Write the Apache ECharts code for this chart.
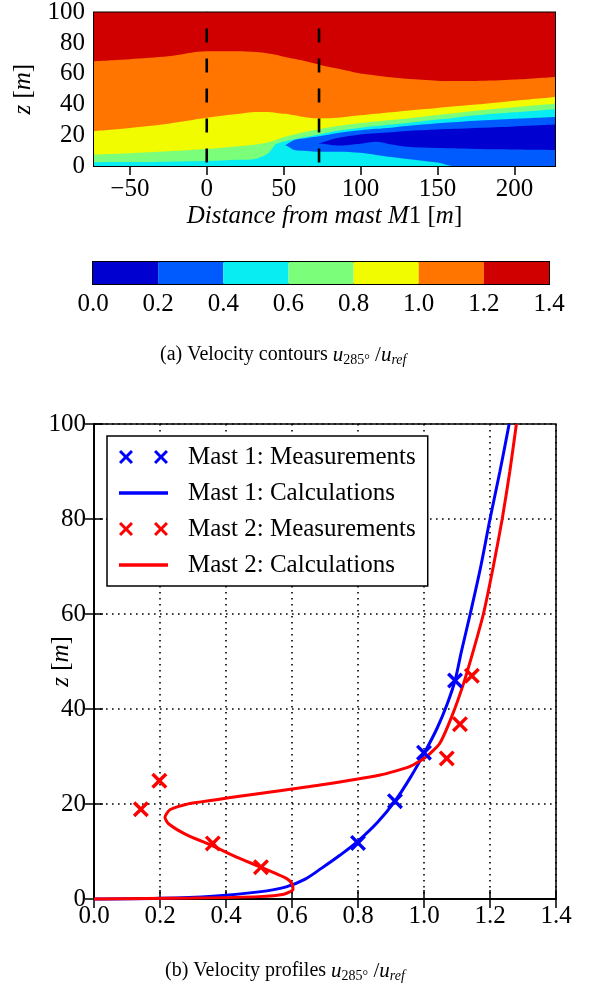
<!DOCTYPE html>
<html><head><meta charset="utf-8">
<script src="https://cdn.jsdelivr.net/npm/echarts@6/dist/echarts.min.js"></script>
<style>html,body{margin:0;padding:0;background:#fff}#c{width:597px;height:985px}</style>
</head><body><div id="c"></div>
<script>
// ---------- (a) contour data: band boundaries (z, m) sampled along x (m) ----------
const contourX = [-73.3, -50, -25, 0, 20, 32, 40, 45, 51, 57, 65, 73, 85, 100, 110, 120, 130, 150, 160, 175, 200, 226.4];
const zTop   = [100,100,100,100,100,100,100,100,100,100,100,100,100,100,100,100,100,100,100,100,100,100];
const zB12   = [68.3, 69.6, 71.5, 74.8, 74.8, 74.2, 73.3, 72.5, 71.0, 69.8, 68.0, 66.0, 63.5, 60.2, 59.0, 57.8, 56.8, 55.6, 55.4, 55.4, 56.3, 58.0];
const zB10   = [22.8, 24.8, 27.6, 31.4, 33.8, 35.2, 35.1, 34.6, 34.0, 33.0, 31.6, 31.0, 31.4, 33.0, 34.0, 35.0, 36.0, 37.8, 38.7, 40.0, 42.5, 45.0];
const zB08   = [7.4, 8.3, 9.6, 11.0, 12.8, 14.0, 15.5, 17.0, 19.0, 20.5, 22.4, 24.0, 26.0, 28.0, 29.0, 30.0, 31.0, 33.3, 34.3, 36.0, 38.3, 40.5];
const zB06   = [2.5, 2.6, 2.8, 3.2, 4.0, 4.8, 8.3, 14.3, 16.2, 17.5, 19.0, 20.6, 23.0, 25.0, 26.0, 27.0, 28.0, 30.3, 31.3, 33.0, 35.0, 37.0];
// lobes (null where the lobe does not exist)
const zB04   = [null, null, null, null, null, null, null, null, 13.4, 16.9, 18.2, 19.3, 21.5, 23.3, 24.2, 25.0, 26.0, 27.8, 28.5, 29.5, 30.8, 32.0];
const zDkTop = [null, null, null, null, null, null, null, null, null, null, null, 14.7, 18.2, 20.5, 21.3, 22.0, 22.8, 23.8, 24.2, 24.8, 25.8, 27.0];
const zDkBot = [null, null, null, null, null, null, null, null, null, null, 14.2, 14.7, 13.3, 14.5, 15.8, 14.0, 12.6, 11.7, 11.5, 11.1, 10.8, 10.5];
const zCyBot = [null, null, null, null, null, null, null, 6.0, 13.4, 10.4, 9.8, 9.3, 9.3, 8.6, 7.2, 5.8, 4.6, 2.2, 0, 0, 0, 0];
const mastX = [0, 73];
const contourXTicks = [-50, 0, 50, 100, 150, 200];

// colour levels
const cbLevels = [0, 0.2, 0.4, 0.6, 0.8, 1.0, 1.2, 1.4];
const cbColors = ['#0000D1', '#005BFF', '#08EDF2', '#7BFF7B', '#F1FC00', '#FF7500', '#D10000'];

// ---------- (b) velocity profiles ----------
const m1MeasX = [0.80, 0.912, 1.0, 1.094];
const m1MeasZ = [11.8, 20.6, 30.8, 46.0];
const m2MeasX = [0.142, 0.198, 0.36, 0.506, 1.069, 1.109, 1.145];
const m2MeasZ = [18.9, 24.9, 11.7, 6.7, 29.6, 36.8, 47.0];
const m1CalcX = [0, 0.2, 0.36, 0.5, 0.58, 0.64, 0.69, 0.745, 0.8, 0.86, 0.912, 0.958, 1.0, 1.04, 1.07, 1.094, 1.113, 1.14, 1.172, 1.2, 1.23, 1.258];
const m1CalcZ = [0, 0.15, 0.6, 1.5, 2.5, 4.2, 6.5, 9.2, 12.2, 16.2, 20.6, 25.5, 30.6, 36, 41, 46, 52, 60, 70, 80, 90, 100];
const m2CalcX = [0, 0.3, 0.5, 0.575, 0.603, 0.6, 0.584, 0.506, 0.432, 0.36, 0.281, 0.225, 0.215, 0.23, 0.291, 0.685, 0.867, 0.958, 1.008, 1.048, 1.084, 1.12, 1.15, 1.18, 1.21, 1.237, 1.26, 1.28];
const m2CalcZ = [0, 0.2, 0.5, 1.0, 2.0, 3.2, 4.3, 6.7, 8.8, 11.2, 13.5, 15.9, 17.2, 18.8, 20.1, 24.0, 26.1, 27.9, 30.0, 32.8, 38.4, 45.4, 52.4, 60, 70, 80, 90, 100];

const FONT = '"Liberation Serif", "DejaVu Serif", serif';
const BLUE = '#0000FF', RED = '#FF0000';

function cross(dx) {
  return `M${dx},3L${dx+3},0L${dx+10},7L${dx+17},0L${dx+20},3L${dx+13},10L${dx+20},17L${dx+17},20L${dx+10},13L${dx+3},20L${dx},17L${dx+7},10Z`;
}
const CROSS = 'path://' + cross(0);
const CROSS2 = 'path://' + cross(0) + cross(50);
const LINEICON = 'path://M0,0H40V3H0Z';

function band(arr, color) {
  return {
    type: 'line', xAxisIndex: 0, yAxisIndex: 0,
    data: contourX.map((x, i) => [x, arr[i]]),
    symbol: 'none', smooth: 0.3, silent: true, connectNulls: false,
    lineStyle: { opacity: 0 },
    areaStyle: { color: color, opacity: 1, origin: 'start' },
    z: 1
  };
}
const pair = (xs, zs) => xs.map((x, i) => [x, zs[i]]);
const minusFmt = v => (v < 0 ? '\u2212' + (-v) : String(v));

const axisLineS = { show: true, lineStyle: { color: '#000', width: 1.5 } };
const lab = (extra) => Object.assign({ fontSize: 25, fontFamily: FONT, color: '#000' }, extra || {});
const richName = { i: { fontStyle: 'italic', fontSize: 25, fontFamily: FONT, color: '#000' } };

const chart = echarts.init(document.getElementById('c'), null, { renderer: 'canvas' });

const capRich = {
  u: { fontStyle: 'italic', fontSize: 21, fontFamily: FONT, color: '#000' },
  s: { fontSize: 14, fontFamily: FONT, color: '#000', padding: [10, 0, 0, 0] },
  si: { fontSize: 14, fontStyle: 'italic', fontFamily: FONT, color: '#000', padding: [10, 0, 0, 0] },
  n: { fontSize: 21, fontFamily: FONT, color: '#000' }
};

const option = {
  animation: false,
  backgroundColor: '#fff',
  title: [
    { text: '(a) Velocity contours {u|u}{s|285°}{n| /}{u|u}{si|ref}', left: 155, top: 338,
      textStyle: { fontSize: 20, fontWeight: 'normal', fontFamily: FONT, color: '#000', rich: capRich } },
    { text: '(b) Velocity profiles {u|u}{s|285°}{n| /}{u|u}{si|ref}', left: 160, top: 954,
      textStyle: { fontSize: 20, fontWeight: 'normal', fontFamily: FONT, color: '#000', rich: capRich } }
  ],
  grid: [
    { left: 94, top: 12, width: 461, height: 154, show: true, borderColor: '#000', borderWidth: 2, backgroundColor: 'transparent' },
    { left: 93, top: 262, width: 456, height: 22, show: true, borderColor: '#000', borderWidth: 2 },
    { left: 94, top: 424, width: 462, height: 475, show: true, borderColor: '#000', borderWidth: 1.5 }
  ],
  xAxis: [
    { gridIndex: 0, type: 'value', min: -73.3, max: 226.4, position: 'bottom',
      axisLine: axisLineS, splitLine: { show: false },
      axisTick: { inside: true, length: 9, customValues: contourXTicks, lineStyle: { color: '#000', width: 1.5 } },
      axisLabel: lab({ margin: 11, customValues: contourXTicks, formatter: minusFmt }),
      name: '{i|Distance from mast M}1 [{i|m}]', nameLocation: 'middle', nameGap: 38, nameMoveOverlap: false,
      nameTextStyle: { fontSize: 25, fontFamily: FONT, color: '#000', rich: richName } },
    { gridIndex: 0, type: 'value', min: -73.3, max: 226.4, position: 'top',
      axisLine: axisLineS, splitLine: { show: false },
      axisTick: { inside: true, length: 9, customValues: contourXTicks, lineStyle: { color: '#000', width: 1.5 } },
      axisLabel: { show: false } },
    { gridIndex: 1, type: 'value', min: 0, max: 1.4, interval: 0.2, position: 'bottom',
      axisLine: axisLineS, splitLine: { show: false },
      axisTick: { inside: true, length: 3, lineStyle: { color: '#000', width: 1.5 } },
      axisLabel: lab({ margin: 8, formatter: v => v.toFixed(1) }) },
    { gridIndex: 1, type: 'value', min: 0, max: 1.4, interval: 0.2, position: 'top',
      axisLine: axisLineS, splitLine: { show: false },
      axisTick: { inside: true, length: 3, lineStyle: { color: '#000', width: 1.5 } },
      axisLabel: { show: false } },
    { gridIndex: 2, type: 'value', min: 0, max: 1.4, interval: 0.2, position: 'bottom',
      axisLine: axisLineS,
      splitLine: { show: true, lineStyle: { color: '#000', width: 1.6, type: [1.6, 4.4] } },
      axisTick: { inside: true, length: 9, lineStyle: { color: '#000', width: 1.5 } },
      axisLabel: lab({ margin: 5, formatter: v => v.toFixed(1) }) },
    { gridIndex: 2, type: 'value', min: 0, max: 1.4, interval: 0.2, position: 'top',
      axisLine: axisLineS, splitLine: { show: false },
      axisTick: { inside: true, length: 9, lineStyle: { color: '#000', width: 1.5 } },
      axisLabel: { show: false } }
  ],
  yAxis: [
    { gridIndex: 0, type: 'value', min: 0, max: 100, interval: 20, position: 'left',
      axisLine: axisLineS, splitLine: { show: false },
      axisTick: { inside: true, length: 9, lineStyle: { color: '#000', width: 1.5 } },
      axisLabel: lab({ margin: 9 }),
      name: '{i|z} [{i|m}]', nameLocation: 'middle', nameGap: 58, nameRotate: 90, nameMoveOverlap: false,
      nameTextStyle: { fontSize: 25, fontFamily: FONT, color: '#000', rich: richName } },
    { gridIndex: 0, type: 'value', min: 0, max: 100, interval: 20, position: 'right',
      axisLine: axisLineS, splitLine: { show: false },
      axisTick: { inside: true, length: 9, lineStyle: { color: '#000', width: 1.5 } },
      axisLabel: { show: false } },
    { gridIndex: 1, type: 'category', data: ['cb'], show: false },
    { gridIndex: 2, type: 'value', min: 0, max: 100, interval: 20, position: 'left',
      axisLine: axisLineS,
      splitLine: { show: true, lineStyle: { color: '#000', width: 1.6, type: [1.6, 4.4] } },
      axisTick: { inside: true, length: 9, lineStyle: { color: '#000', width: 1.5 } },
      axisLabel: lab({ margin: 8 }),
      name: '{i|z} [{i|m}]', nameLocation: 'middle', nameGap: 20, nameRotate: 90, nameMoveOverlap: false,
      nameTextStyle: { fontSize: 25, fontFamily: FONT, color: '#000', rich: richName } },
    { gridIndex: 2, type: 'value', min: 0, max: 100, interval: 20, position: 'right',
      axisLine: axisLineS, splitLine: { show: false },
      axisTick: { inside: true, length: 9, lineStyle: { color: '#000', width: 1.5 } },
      axisLabel: { show: false } }
  ],
  legend: {
    orient: 'vertical', left: 107, top: 436,
    padding: [7, 12, 7, 12], itemGap: 8, itemWidth: 49, itemHeight: 14, symbolKeepAspect: true,
    borderColor: '#000', borderWidth: 1.5, backgroundColor: '#fff',
    textStyle: { fontSize: 25, fontFamily: FONT, color: '#000', lineHeight: 28, padding: [0, 0, 0, 15] },
    data: [
      { name: 'Mast 1: Measurements', icon: CROSS2 },
      { name: 'Mast 1: Calculations', icon: LINEICON },
      { name: 'Mast 2: Measurements', icon: CROSS2 },
      { name: 'Mast 2: Calculations', icon: LINEICON }
    ]
  },
  series: [
    band(zTop, cbColors[6]),
    band(zB12, cbColors[5]),
    band(zB10, cbColors[4]),
    band(zB08, cbColors[3]),
    band(zB06, cbColors[2]),
    band(zB04, cbColors[1]),
    band(zDkTop, cbColors[0]),
    band(zDkBot, cbColors[1]),
    band(zCyBot, cbColors[2]),
    ...mastX.map(mx => ({
      type: 'line', xAxisIndex: 0, yAxisIndex: 0, symbol: 'none', silent: true, z: 5,
      data: [[mx, 100], [mx, 0]],
      lineStyle: { color: '#000', width: 2.6, type: [14, 16], dashOffset: 14 }
    })),
    ...cbColors.map((c, i) => ({
      type: 'bar', xAxisIndex: 2, yAxisIndex: 2, stack: 'cb', barWidth: '100%', silent: true,
      data: [+(cbLevels[i + 1] - cbLevels[i]).toFixed(3)],
      itemStyle: { color: c }
    })),
    { name: 'Mast 1: Calculations', type: 'line', xAxisIndex: 4, yAxisIndex: 3,
      data: pair(m1CalcX, m1CalcZ), symbol: 'none', smooth: 0.35, clip: false, z: 3,
      lineStyle: { color: BLUE, width: 3 }, itemStyle: { color: BLUE } },
    { name: 'Mast 2: Calculations', type: 'line', xAxisIndex: 4, yAxisIndex: 3,
      data: pair(m2CalcX, m2CalcZ), symbol: 'none', smooth: 0.2, clip: false, z: 3,
      lineStyle: { color: RED, width: 3 }, itemStyle: { color: RED } },
    { name: 'Mast 1: Measurements', type: 'scatter', xAxisIndex: 4, yAxisIndex: 3,
      data: pair(m1MeasX, m1MeasZ), symbol: CROSS, symbolSize: 16, z: 4,
      itemStyle: { color: BLUE, opacity: 1 } },
    { name: 'Mast 2: Measurements', type: 'scatter', xAxisIndex: 4, yAxisIndex: 3,
      data: pair(m2MeasX, m2MeasZ), symbol: CROSS, symbolSize: 16, z: 4,
      itemStyle: { color: RED, opacity: 1 } }
  ]
};
chart.setOption(option);
</script>
</body></html>
